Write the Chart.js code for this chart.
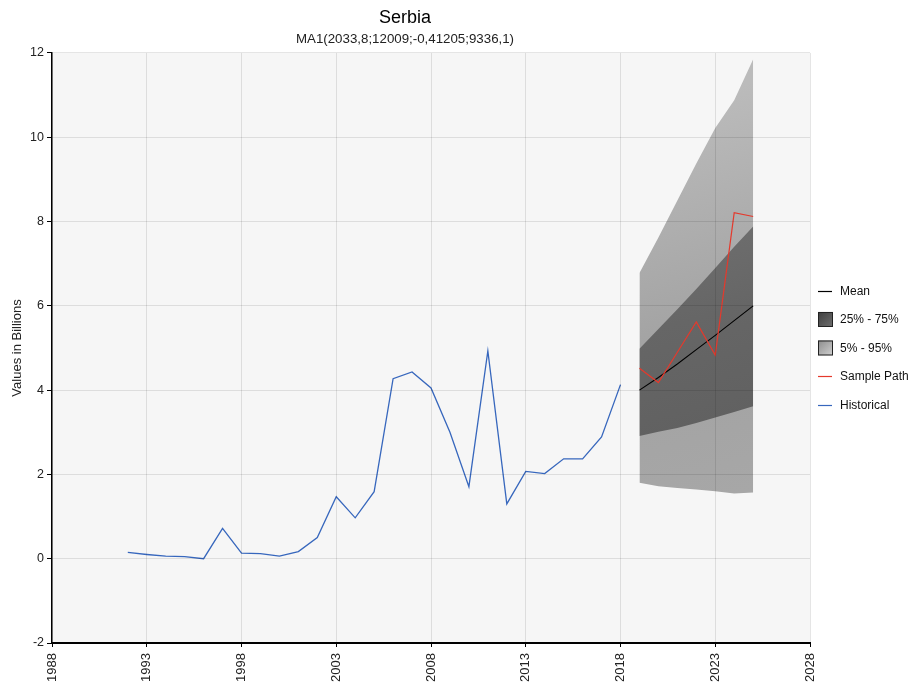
<!DOCTYPE html>
<html>
<head>
<meta charset="utf-8">
<script src="https://cdn.jsdelivr.net/npm/chart.js@4.4.1/dist/chart.umd.min.js"></script>
<style>
html,body{margin:0;padding:0;background:#fff;}
#wrap{width:918px;height:688px;}
</style>
</head>
<body>
<div id="wrap"><canvas id="c" width="918" height="688"></canvas></div>
<script>
// ---- data ----
const histYears = [1992,1993,1994,1995,1996,1997,1998,1999,2000,2001,2002,2003,2004,2005,2006,2007,2008,2009,2010,2011,2012,2013,2014,2015,2016,2017,2018];
const histValues = [0.15,0.10,0.06,0.05,0.00,0.72,0.13,0.12,0.06,0.17,0.50,1.47,0.97,1.59,4.27,4.43,4.05,3.00,1.71,4.93,1.30,2.07,2.02,2.37,2.37,2.89,4.13];
const fcYears = [2019,2020,2021,2022,2023,2024,2025];
const meanValues = [4.00,4.30,4.62,4.96,5.30,5.65,6.00];
const p75Values = [4.98,5.45,5.92,6.40,6.90,7.40,7.88];
const p25Values = [2.91,3.01,3.10,3.22,3.35,3.48,3.62];
const p95Values = [6.78,7.62,8.50,9.38,10.22,10.88,11.85];
const p5Values = [1.80,1.72,1.68,1.64,1.60,1.55,1.57];
const sampleValues = [4.52,4.18,4.90,5.62,4.83,8.21,8.12];
const xTickLabels = [1988,1993,1998,2003,2008,2013,2018,2023,2028];
const yTickLabels = [-2,0,2,4,6,8,10,12];
const legendLabels = ['Mean','25% - 75%','5% - 95%','Sample Path','Historical'];

const FONT = "'Liberation Sans', Arial, sans-serif";
const pts = (xs, ys) => xs.map((x, i) => ({x: x, y: ys[i]}));

function bandGradient(ctx, stops) {
  const chart = ctx.chart;
  const ca = chart.chartArea;
  if (!ca || !chart.scales.x) return stops[0][1];
  const xs = chart.scales.x;
  const x0 = xs.getPixelForValue(fcYears[0]);
  const x1 = xs.getPixelForValue(fcYears[fcYears.length - 1]);
  const g = chart.ctx.createLinearGradient(x0, ca.top + 60, x1, ca.bottom - 120);
  stops.forEach(s => g.addColorStop(s[0], s[1]));
  return g;
}

const COLORS = {
  hist: '#3767bd',
  sample: '#e5392c',
  mean: '#000000'
};

const bgPlugin = {
  id: 'bg',
  beforeDraw(chart) {
    const c = chart.ctx, a = chart.chartArea;
    c.save();
    c.fillStyle = '#ffffff';
    c.fillRect(0, 0, chart.width, chart.height);
    c.fillStyle = '#f6f6f6';
    c.fillRect(a.left, a.top, a.right - a.left, a.bottom - a.top);
    c.restore();
  }
};

const legendPlugin = {
  id: 'sideLegend',
  afterDraw(chart) {
    const c = chart.ctx, a = chart.chartArea;
    const x = a.right + 8;
    const mid = (a.top + a.bottom) / 2;
    const step = 28.5;
    c.save();
    c.font = '12px ' + FONT;
    c.textBaseline = 'middle';
    c.textAlign = 'left';
    legendLabels.forEach((lab, i) => {
      const y = mid + (i - 2) * step;
      if (i === 1 || i === 2) {
        const g = c.createLinearGradient(x, y - 8, x + 15, y + 8);
        if (i === 1) { g.addColorStop(0, '#3c3c3c'); g.addColorStop(1, '#707070'); }
        else { g.addColorStop(0, '#8a8a8a'); g.addColorStop(1, '#d2d2d2'); }
        c.fillStyle = g;
        c.fillRect(x, y - 7.5, 15, 15);
        c.strokeStyle = '#222';
        c.lineWidth = 1;
        c.strokeRect(x + 0.5, y - 7, 14, 14);
      } else {
        const col = i === 0 ? COLORS.mean : (i === 3 ? COLORS.sample : COLORS.hist);
        c.strokeStyle = col;
        c.lineWidth = 1.2;
        c.beginPath();
        c.moveTo(x, Math.round(y) + 0.5);
        c.lineTo(x + 14, Math.round(y) + 0.5);
        c.stroke();
      }
      c.fillStyle = '#111';
      c.fillText(lab, x + 22, y + 0.5);
    });
    c.restore();
  }
};

new Chart(document.getElementById('c'), {
  type: 'line',
  data: {
    datasets: [
      { label: 'Historical', data: pts(histYears, histValues), borderColor: COLORS.hist, borderWidth: 1.3, pointRadius: 0, fill: false, tension: 0 },
      { label: 'Sample Path', data: pts(fcYears, sampleValues), borderColor: COLORS.sample, borderWidth: 1.2, pointRadius: 0, fill: false, tension: 0 },
      { label: 'Mean', data: pts(fcYears, meanValues), borderColor: COLORS.mean, borderWidth: 1.1, pointRadius: 0, fill: false, tension: 0 },
      { label: '75%', data: pts(fcYears, p75Values), borderWidth: 0, borderColor: 'rgba(0,0,0,0)', pointRadius: 0, fill: '+1', tension: 0,
        backgroundColor: (ctx) => bandGradient(ctx, [[0, '#7a7a7a'], [0.5, '#666666'], [1, '#5c5c5c']]) },
      { label: '25%', data: pts(fcYears, p25Values), borderWidth: 0, borderColor: 'rgba(0,0,0,0)', pointRadius: 0, fill: false, tension: 0 },
      { label: '95%', data: pts(fcYears, p95Values), borderWidth: 0, borderColor: 'rgba(0,0,0,0)', pointRadius: 0, fill: '+1', tension: 0,
        backgroundColor: (ctx) => bandGradient(ctx, [[0, '#bbbbbb'], [0.55, '#a2a2a2'], [1, '#a8a8a8']]) },
      { label: '5%', data: pts(fcYears, p5Values), borderWidth: 0, borderColor: 'rgba(0,0,0,0)', pointRadius: 0, fill: false, tension: 0 }
    ]
  },
  options: {
    responsive: false,
    animation: false,
    devicePixelRatio: 1,
    layout: { padding: { left: 0, right: 108, top: 0, bottom: 0 } },
    plugins: {
      legend: { display: false },
      tooltip: { enabled: false },
      title: { display: true, text: 'Serbia', color: '#000', font: { family: FONT, size: 18, weight: 'normal' }, padding: { top: 7, bottom: 0 } },
      subtitle: { display: true, text: 'MA1(2033,8;12009;-0,41205;9336,1)', color: '#222', font: { family: FONT, size: 13.3 }, padding: { top: 3, bottom: 5.4 } }
    },
    scales: {
      x: {
        type: 'linear', min: 1988, max: 2028,
        afterBuildTicks: (s) => { s.ticks = xTickLabels.map(v => ({ value: v })); },
        afterFit: (s) => { s.height = 45; },
        ticks: { autoSkip: false, minRotation: 90, maxRotation: 90, padding: 6, color: '#222', font: { family: FONT, size: 13 }, callback: (v) => String(v) },
        grid: { z: 1, color: 'rgba(0,0,0,0.1)', lineWidth: 1, tickLength: 4, tickColor: '#000' },
        border: { z: 2, color: '#000', width: 2 }
      },
      y: {
        type: 'linear', min: -2, max: 12,
        afterBuildTicks: (s) => { s.ticks = yTickLabels.map(v => ({ value: v })); },
        afterFit: (s) => { s.width = 52; },
        ticks: { padding: 3, color: '#222', font: { family: FONT, size: 12.5 }, callback: (v) => String(v) },
        grid: { z: 1, color: 'rgba(0,0,0,0.1)', lineWidth: 1, tickLength: 5, tickColor: '#000' },
        border: { z: 2, color: '#000', width: 1.5 },
        title: { display: true, text: 'Values in Billions', color: '#222', font: { family: FONT, size: 13 }, padding: { top: 10, bottom: 0 } }
      }
    }
  },
  plugins: [bgPlugin, legendPlugin]
});
</script>
</body>
</html>
